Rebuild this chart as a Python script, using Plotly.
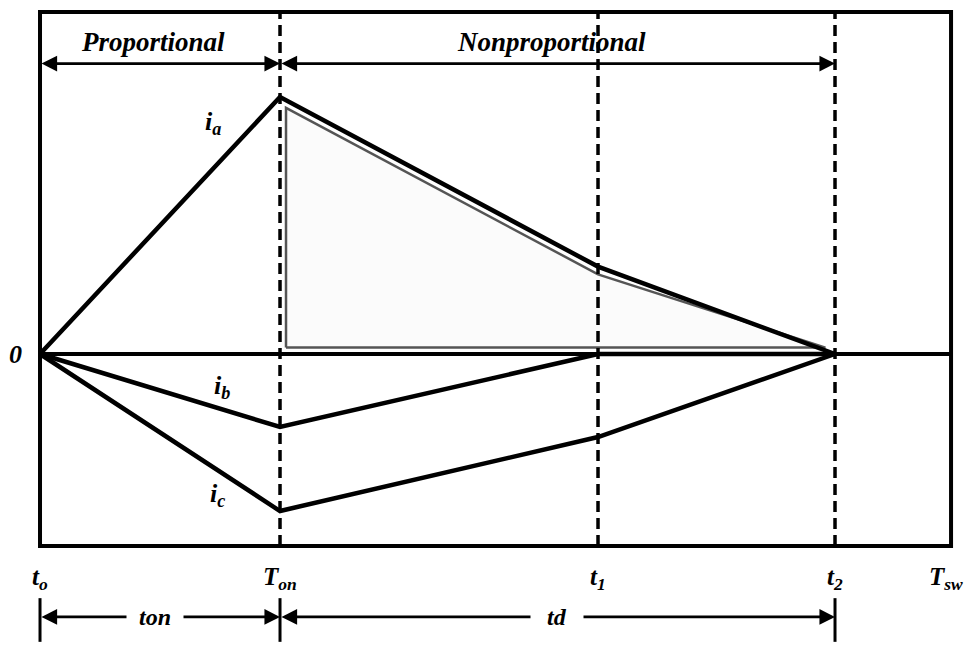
import numpy as np
import plotly.graph_objects as go

# Switching instants, normalised to the on-time T_on
t_names = ["t<sub>o</sub>", "T<sub>on</sub>", "t<sub>1</sub>", "t<sub>2</sub>", "T<sub>sw</sub>"]
t_inst = [0.0, 1.0, 2.325, 3.3125, 3.796]
t0, Ton, t1, t2, Tsw = t_inst

# Phase currents at t_o, T_on, t_1, t_2 (normalised to the peak of i_a)
t_pts = [t0, Ton, t1, t2]
i_a = [0.0, 1.0, 0.34, 0.0]
i_b = [0.0, -0.284, 0.0, 0.0]
i_c = [0.0, -0.611, -0.323, 0.0]

# Interval captions
region_names = ["Proportional", "Nonproportional"]
interval_names = ["ton", "td"]

# ---- styling constants ----
FONT = "Liberation Serif, DejaVu Serif, serif"
LW = 4.5
FRAME_TOP, FRAME_BOT = 1.331, -0.747
ARROW_TOP_Y = 1.13
TEXT_TOP_Y = 1.214
LABEL_Y = -0.872
ARROW_BOT_Y = -1.023

fig = go.Figure()

# Shaded energy region under i_a during the non-proportional interval
dx, dy, off = 0.025, 0.025, 0.03
ia_on = np.interp(Ton + dx, t_pts, i_a)
ia_t1 = np.interp(t1, t_pts, i_a)
fig.add_trace(go.Scatter(
    x=[Ton + dx, Ton + dx, t1, t2 - 0.04, Ton + dx],
    y=[dy, ia_on - off, ia_t1 - off, dy, dy],
    mode="lines", fill="toself", fillcolor="rgba(150,150,150,0.04)",
    line=dict(color="#555555", width=2.5), hoverinfo="skip"))

for cur in (i_a, i_b, i_c):
    fig.add_trace(go.Scatter(x=t_pts, y=cur, mode="lines",
                             line=dict(color="black", width=LW), hoverinfo="skip"))

shapes = []
# frame
shapes.append(dict(type="rect", x0=t0, x1=Tsw, y0=FRAME_BOT, y1=FRAME_TOP,
                   line=dict(color="black", width=4)))
# zero axis
shapes.append(dict(type="line", x0=t0, x1=Tsw, y0=0, y1=0,
                   line=dict(color="black", width=4)))
# dashed markers at T_on, t_1, t_2
for tx in (Ton, t1, t2):
    shapes.append(dict(type="line", x0=tx, x1=tx, y0=FRAME_BOT, y1=FRAME_TOP,
                       line=dict(color="black", width=3.5, dash="11px,6px")))
# end bars of the lower dimension arrows
for tx in (t0, Ton, t2):
    shapes.append(dict(type="line", x0=tx, x1=tx, y0=-0.95, y1=-1.12,
                       line=dict(color="black", width=3)))

ann = []


def dim_arrow(xa, xb, y):
    return dict(x=xb, y=y, ax=xa, ay=y, xref="x", yref="y", axref="x", ayref="y",
                text="", showarrow=True, arrowside="end+start",
                arrowhead=2, startarrowhead=2, arrowsize=1.2, startarrowsize=1.2,
                arrowwidth=2.6, arrowcolor="black", standoff=0, startstandoff=0)


def label(txt, x, y, size, **kw):
    d = dict(x=x, y=y, xref="x", yref="y", text="<b><i>%s</i></b>" % txt,
             showarrow=False, font=dict(family=FONT, size=size, color="black"))
    d.update(kw)
    return d


# upper region arrows and captions
ann.append(dim_arrow(t0, Ton, ARROW_TOP_Y))
ann.append(dim_arrow(Ton, t2, ARROW_TOP_Y))
ann.append(label(region_names[0], 0.47, TEXT_TOP_Y, 27))
ann.append(label(region_names[1], 2.13, TEXT_TOP_Y, 27))

# lower interval arrows with captions breaking the line
ann.append(dim_arrow(t0, Ton, ARROW_BOT_Y))
ann.append(dim_arrow(Ton, t2, ARROW_BOT_Y))
ann.append(label(interval_names[0], 0.48, ARROW_BOT_Y, 24, bgcolor="white", borderpad=12))
ann.append(label(interval_names[1], 2.155, ARROW_BOT_Y, 24, bgcolor="white", borderpad=16))

# time labels under the frame
for name, tx in zip(t_names, t_inst):
    xx = tx - 0.02 if tx == Tsw else tx
    ann.append(label(name, xx, LABEL_Y, 25))

# current labels
ann.append(label("i<sub>a</sub>", 0.72, 0.90, 26))
ann.append(label("i<sub>b</sub>", 0.76, -0.13, 26))
ann.append(label("i<sub>c</sub>", 0.74, -0.55, 26))
# origin label
ann.append(label("0", -0.104, 0.0, 26))

fig.update_layout(
    width=966, height=645,
    margin=dict(l=0, r=0, t=0, b=0),
    paper_bgcolor="white", plot_bgcolor="white",
    showlegend=False,
    font=dict(family=FONT),
    xaxis=dict(range=[-0.1667, 3.8583], visible=False, fixedrange=True),
    yaxis=dict(range=[-1.1323, 1.3774], visible=False, fixedrange=True),
    shapes=shapes, annotations=ann,
)

fig.write_html("out.html")
